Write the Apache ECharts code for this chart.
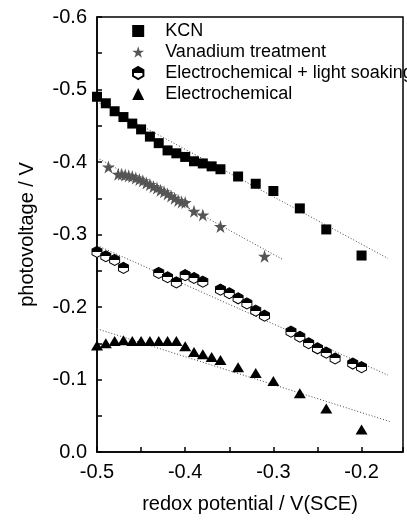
<!DOCTYPE html>
<html>
<head>
<meta charset="utf-8">
<title>photovoltage vs redox potential</title>
<script src="https://cdn.jsdelivr.net/npm/echarts@6/dist/echarts.min.js"></script>
<style>
  html, body { margin: 0; padding: 0; background: #fff; }
  #main { width: 407px; height: 521px; }
</style>
</head>
<body>
<div id="main"></div>
<script>
// redox potential / V(SCE) and photovoltage / V
const kcnX = [-0.50, -0.49, -0.48, -0.47, -0.46, -0.45, -0.44, -0.43, -0.42, -0.41, -0.40,
  -0.39, -0.38, -0.37, -0.36, -0.34, -0.32, -0.30, -0.27, -0.24, -0.20];
const kcnY = [-0.490, -0.481, -0.470, -0.462, -0.453, -0.445, -0.435, -0.426, -0.416, -0.412, -0.407,
  -0.401, -0.398, -0.394, -0.390, -0.380, -0.370, -0.360, -0.336, -0.307, -0.271];

const vanX = [-0.487, -0.476, -0.472, -0.468, -0.464, -0.460, -0.456, -0.452, -0.448, -0.444, -0.440,
  -0.436, -0.432, -0.428, -0.424, -0.420, -0.416, -0.412, -0.408, -0.404, -0.400, -0.390, -0.380,
  -0.360, -0.310];
const vanY = [-0.393, -0.383, -0.383, -0.382, -0.381, -0.380, -0.378, -0.376, -0.374, -0.371, -0.369,
  -0.366, -0.364, -0.361, -0.359, -0.356, -0.353, -0.350, -0.347, -0.345, -0.344, -0.332, -0.327,
  -0.311, -0.270];

const soakX = [-0.50, -0.49, -0.48, -0.47, -0.43, -0.42, -0.41, -0.40, -0.39, -0.38, -0.36, -0.35,
  -0.34, -0.33, -0.32, -0.31, -0.28, -0.27, -0.26, -0.25, -0.24, -0.23, -0.21, -0.20];
const soakY = [-0.276, -0.270, -0.265, -0.254, -0.247, -0.241, -0.234, -0.244, -0.240, -0.235, -0.224, -0.219,
  -0.212, -0.205, -0.195, -0.188, -0.166, -0.159, -0.150, -0.143, -0.137, -0.129, -0.122, -0.117];

const elecX = [-0.50, -0.49, -0.48, -0.47, -0.46, -0.45, -0.44, -0.43, -0.42, -0.41, -0.40,
  -0.39, -0.38, -0.37, -0.36, -0.34, -0.32, -0.30, -0.27, -0.24, -0.20];
const elecY = [-0.147, -0.150, -0.153, -0.154, -0.153, -0.153, -0.153, -0.153, -0.153, -0.153, -0.146,
  -0.138, -0.135, -0.131, -0.127, -0.117, -0.109, -0.098, -0.081, -0.060, -0.031];

// dotted linear fits, end points
const fitKCN = [[-0.50, -0.483], [-0.17, -0.267]];
const fitVan = [[-0.50, -0.406], [-0.29, -0.266]];
const fitSoak = [[-0.50, -0.285], [-0.17, -0.106]];
const fitElec = [[-0.50, -0.170], [-0.168, -0.042]];

const names = ['KCN', 'Vanadium treatment', 'Electrochemical + light soaking', 'Electrochemical'];

const pairs = (xs, ys) => xs.map((x, i) => [x, ys[i]]);
const FONT = 'Liberation Sans, Arial, sans-serif';

const hexagon = 'path://M0,-1L0.866,-0.5L0.866,0.5L0,1L-0.866,0.5L-0.866,-0.5Z';
const star = 'path://M0,-1L0.2245,-0.309L0.951,-0.309L0.3633,0.118L0.5878,0.809L0,0.382L-0.5878,0.809L-0.3633,0.118L-0.951,-0.309L-0.2245,-0.309Z';
const halfFill = new echarts.graphic.LinearGradient(0, 0, 0, 1, [
  { offset: 0, color: '#000' },
  { offset: 0.5, color: '#000' },
  { offset: 0.5, color: '#fff' },
  { offset: 1, color: '#fff' }
]);

const fitLine = (data) => ({
  type: 'line',
  data: data,
  symbol: 'none',
  silent: true,
  z: 1,
  lineStyle: { color: '#444', width: 1, type: [1, 2] }
});

var chart = echarts.init(document.getElementById('main'), null, { renderer: 'canvas' });

var option = {
  animation: false,
  backgroundColor: '#fff',
  grid: {
    left: 97, top: 17, right: 4, bottom: 69,
    show: true, borderColor: '#000', borderWidth: 1.5, backgroundColor: 'transparent'
  },
  legend: {
    data: names,
    orient: 'vertical',
    left: 132,
    top: 22,
    padding: 0,
    itemGap: 3,
    itemWidth: 12,
    itemHeight: 12,
    textStyle: { fontFamily: FONT, fontSize: 18, color: '#000', padding: [0, 0, 0, 16] }
  },
  xAxis: {
    type: 'value',
    min: -0.5, max: -0.153, interval: 0.1,
    name: 'redox potential / V(SCE)',
    nameLocation: 'middle',
    nameGap: 42,
    nameTextStyle: { fontFamily: FONT, fontSize: 20, color: '#000' },
    axisLine: { lineStyle: { color: '#000', width: 1.5 } },
    axisTick: { inside: true, length: 5, lineStyle: { color: '#000', width: 1.5 } },
    minorTick: { show: true, splitNumber: 2, length: 5, lineStyle: { color: '#000', width: 1.5 } },
    splitLine: { show: false },
    axisLabel: {
      margin: 10, fontFamily: FONT, fontSize: 20, color: '#000',
      showMaxLabel: false,
      formatter: v => v.toFixed(1)
    }
  },
  yAxis: {
    type: 'value',
    inverse: true,
    min: -0.6, max: 0, interval: 0.1,
    name: 'photovoltage / V',
    nameLocation: 'middle',
    nameGap: 60,
    nameTextStyle: { fontFamily: FONT, fontSize: 20, color: '#000' },
    axisLine: { lineStyle: { color: '#000', width: 1.5 } },
    axisTick: { inside: true, length: 5, lineStyle: { color: '#000', width: 1.5 } },
    minorTick: { show: true, splitNumber: 2, length: 5, lineStyle: { color: '#000', width: 1.5 } },
    splitLine: { show: false },
    axisLabel: {
      margin: 10, fontFamily: FONT, fontSize: 20, color: '#000',
      formatter: v => Math.abs(v) < 1e-9 ? '0.0' : v.toFixed(1)
    }
  },
  series: [
    fitLine(fitKCN),
    fitLine(fitVan),
    fitLine(fitSoak),
    fitLine(fitElec),
    {
      name: names[0],
      type: 'scatter',
      data: pairs(kcnX, kcnY),
      symbol: 'rect',
      symbolSize: 10,
      itemStyle: { color: '#000', opacity: 1 },
      z: 3
    },
    {
      name: names[1],
      type: 'scatter',
      data: pairs(vanX, vanY),
      symbol: star,
      symbolSize: 13,
      itemStyle: { color: '#555', opacity: 1 },
      z: 3
    },
    {
      name: names[2],
      type: 'scatter',
      data: pairs(soakX, soakY),
      symbol: hexagon,
      symbolSize: [10, 11],
      itemStyle: { color: halfFill, borderColor: '#000', borderWidth: 1, opacity: 1 },
      z: 3
    },
    {
      name: names[3],
      type: 'scatter',
      data: pairs(elecX, elecY),
      symbol: 'triangle',
      symbolSize: [12, 10],
      itemStyle: { color: '#000', opacity: 1 },
      z: 3
    }
  ]
};

chart.setOption(option);
</script>
</body>
</html>
